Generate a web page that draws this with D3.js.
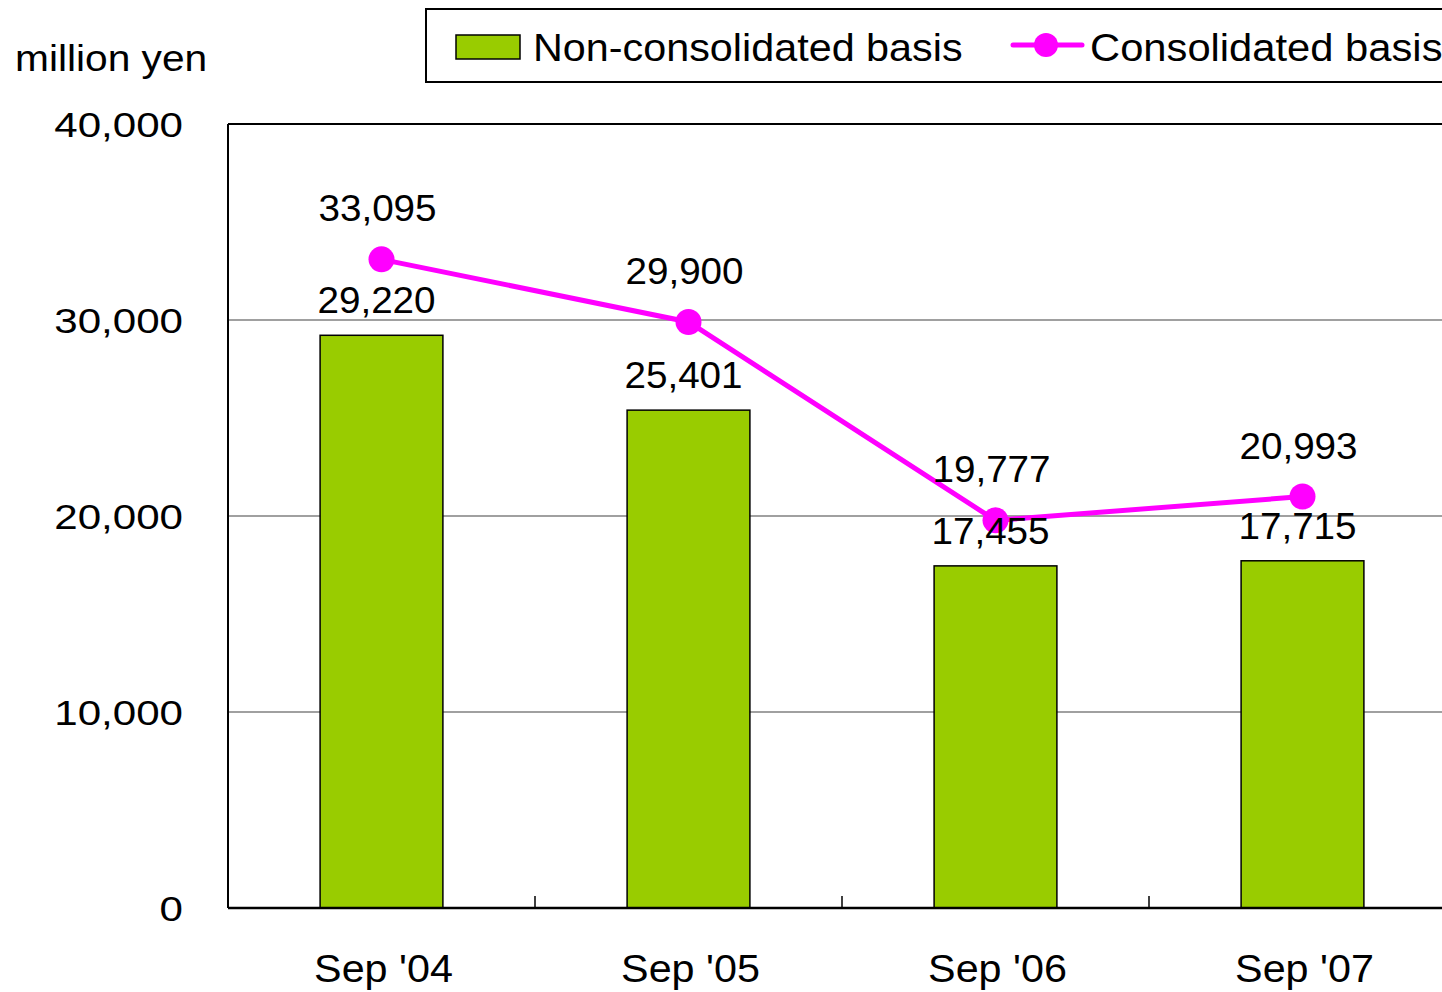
<!DOCTYPE html>
<html>
<head>
<meta charset="utf-8">
<script src="https://cdn.jsdelivr.net/npm/d3@7"></script>
<style>
  body { margin: 0; background: #fff; }
  svg { display: block; }
  text { font-family: Arial, 'Liberation Sans', sans-serif; fill: #000; }
</style>
</head>
<body>
<svg id="chart" width="1442" height="992"></svg>
<script>
// Chart data
const categories = ["Sep '04", "Sep '05", "Sep '06", "Sep '07"];
const nonConsolidated = [29220, 25401, 17455, 17715];
const consolidated = [33095, 29900, 19777, 20993];
const yTicks = [0, 10000, 20000, 30000, 40000];
const seriesNames = ['Non-consolidated basis', 'Consolidated basis'];
const unitLabel = 'million yen';

// Style values
const barColor = '#99cc00';
const lineColor = '#ff00ff';
const gridColor = '#808080';
const fmt = d3.format(',');

const svg = d3.select('#chart');
const margin = { left: 228, top: 124, bottom: 84 };
const height = 992;
const plotRight = 1456; // plot runs past the right edge of the picture

const x = d3.scaleBand().domain(categories).range([margin.left, plotRight]).padding(0);
const y = d3.scaleLinear().domain([0, 40000]).range([height - margin.bottom, margin.top]);
const barW = x.bandwidth() * 0.4;
const cx = (d) => x(d) + x.bandwidth() / 2;

// text in the reference is a little wider than the font, so stretch it sideways
function label(parent, tx, ty, str, size, sx, anchor) {
  return parent
    .append('g')
    .attr('transform', `translate(${tx},${ty}) scale(${sx},1)`)
    .append('text')
    .attr('text-anchor', anchor || 'start')
    .attr('font-size', size)
    .text(str);
}

// Gridlines
svg.append('g')
  .selectAll('line')
  .data(yTicks.filter((t) => t > 0 && t < 40000))
  .enter()
  .append('line')
  .attr('x1', margin.left)
  .attr('x2', plotRight)
  .attr('y1', (d) => y(d))
  .attr('y2', (d) => y(d))
  .attr('stroke', gridColor)
  .attr('stroke-width', 1.3);

// Plot frame: top and left
svg.append('line')
  .attr('x1', margin.left).attr('x2', plotRight)
  .attr('y1', y(40000)).attr('y2', y(40000))
  .attr('stroke', '#000').attr('stroke-width', 2);
svg.append('line')
  .attr('x1', margin.left).attr('x2', margin.left)
  .attr('y1', y(40000)).attr('y2', y(0))
  .attr('stroke', '#000').attr('stroke-width', 2);

// Bars
svg.append('g')
  .selectAll('rect')
  .data(nonConsolidated)
  .enter()
  .append('rect')
  .attr('x', (d, i) => cx(categories[i]) - barW / 2)
  .attr('y', (d) => y(d))
  .attr('width', barW)
  .attr('height', (d) => y(0) - y(d))
  .attr('fill', barColor)
  .attr('stroke', '#000')
  .attr('stroke-width', 1.5);

// X axis line and category boundary ticks
svg.append('line')
  .attr('x1', margin.left).attr('x2', plotRight)
  .attr('y1', y(0)).attr('y2', y(0))
  .attr('stroke', '#000').attr('stroke-width', 2.5);
svg.append('g')
  .selectAll('line')
  .data(categories.slice(1))
  .enter()
  .append('line')
  .attr('x1', (d) => x(d)).attr('x2', (d) => x(d))
  .attr('y1', y(0)).attr('y2', y(0) - 12)
  .attr('stroke', '#000').attr('stroke-width', 1.5);

// Category labels
const catG = svg.append('g');
categories.forEach((c) => label(catG, cx(c) + 2, 982, c, 39, 1.06, 'middle'));

// Y tick labels
const yG = svg.append('g');
yTicks.forEach((t) => label(yG, 183, y(t) + 13, fmt(t), 36, 1.17, 'end'));

label(svg, 15, 71, unitLabel, 37, 1.1);

// Line series
const line = d3.line()
  .x((d, i) => cx(categories[i]))
  .y((d) => y(d));
svg.append('path')
  .datum(consolidated)
  .attr('d', line)
  .attr('fill', 'none')
  .attr('stroke', lineColor)
  .attr('stroke-width', 5);
svg.append('g')
  .selectAll('circle')
  .data(consolidated)
  .enter()
  .append('circle')
  .attr('cx', (d, i) => cx(categories[i]))
  .attr('cy', (d) => y(d))
  .attr('r', 13)
  .attr('fill', lineColor);

// Data labels
const dataG = svg.append('g');
nonConsolidated.forEach((v, i) =>
  label(dataG, cx(categories[i]) - 5, y(v) - 22, fmt(v), 37, 1.045, 'middle'));
consolidated.forEach((v, i) =>
  label(dataG, cx(categories[i]) - 4, y(v) - 38, fmt(v), 37, 1.045, 'middle'));

// Legend
const legend = svg.append('g');
legend.append('rect')
  .attr('x', 426).attr('y', 9)
  .attr('width', 1100).attr('height', 73)
  .attr('fill', '#fff')
  .attr('stroke', '#000').attr('stroke-width', 2);
legend.append('rect')
  .attr('x', 456).attr('y', 35)
  .attr('width', 64).attr('height', 24)
  .attr('fill', barColor)
  .attr('stroke', '#000').attr('stroke-width', 1.5);
label(legend, 533, 61, seriesNames[0], 39, 1.06);
legend.append('line')
  .attr('x1', 1013).attr('x2', 1082)
  .attr('y1', 45).attr('y2', 45)
  .attr('stroke', lineColor).attr('stroke-width', 5)
  .attr('stroke-linecap', 'round');
legend.append('circle')
  .attr('cx', 1046).attr('cy', 45).attr('r', 12)
  .attr('fill', lineColor);
label(legend, 1090, 61, seriesNames[1], 39, 1.07);
</script>
</body>
</html>
